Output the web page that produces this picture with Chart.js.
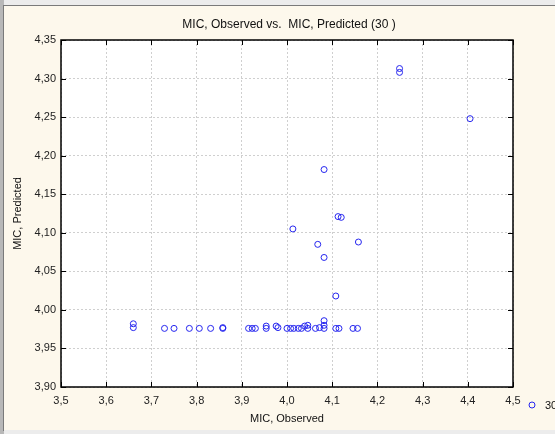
<!DOCTYPE html>
<html>
<head>
<meta charset="utf-8">
<script src="https://cdn.jsdelivr.net/npm/chart.js@4/dist/chart.umd.min.js"></script>
<style>
  html, body { margin: 0; padding: 0; background: #fdf8ec; overflow: hidden; }
  #wrap { width: 555px; height: 434px; position: relative; }
</style>
</head>
<body>
<div id="wrap"><canvas id="c" width="555" height="434"></canvas></div>
<script>
// Observed vs. predicted MIC values (log scale units)
const observed = [
  4.249, 4.249, 4.405, 4.082, 4.113, 4.120, 4.013, 4.158, 4.068, 4.082, 4.108,
  3.660, 3.660, 3.729, 3.750, 3.784, 3.806, 3.831, 3.858, 3.858,
  3.915, 3.923, 3.930, 3.954, 3.954, 3.976, 3.980,
  4.000, 4.008, 4.015, 4.025, 4.032, 4.039, 4.046, 4.046,
  4.063, 4.072, 4.082, 4.082, 4.082, 4.108, 4.115, 4.146, 4.156
];
const predicted = [
  4.313, 4.308, 4.248, 4.182, 4.121, 4.120, 4.105, 4.088, 4.085, 4.068, 4.018,
  3.982, 3.977, 3.976, 3.976, 3.976, 3.976, 3.976, 3.976, 3.977,
  3.976, 3.976, 3.976, 3.979, 3.976, 3.979, 3.977,
  3.976, 3.976, 3.976, 3.976, 3.976, 3.979, 3.980, 3.976,
  3.976, 3.977, 3.986, 3.980, 3.976, 3.976, 3.976, 3.976, 3.976
];

const seriesLabel = '30';
const chartTitle = 'MIC, Observed vs.  MIC, Predicted (30 )';
const xTitle = 'MIC, Observed';
const yTitle = 'MIC, Predicted';

const xMin = 3.5, xMax = 4.5, xStep = 0.1;
const yMin = 3.9, yMax = 4.35, yStep = 0.05;

const FONT = '"Liberation Sans", Arial, sans-serif';
const BLUE = '#2626f0';

const points = observed.map((x, i) => ({ x: x, y: predicted[i] }));

// Panel background, plot frame, inner tick marks, title and legend
const panel = {
  id: 'panel',
  beforeDraw(chart) {
    const { ctx, chartArea: a } = chart;
    ctx.save();
    ctx.fillStyle = '#fdf8ec';
    ctx.fillRect(0, 0, chart.width, chart.height);
    // window edges
    ctx.fillStyle = '#ececec';
    ctx.fillRect(0, 0, chart.width, 6);
    ctx.fillRect(0, chart.height - 4, chart.width, 4);
    ctx.fillStyle = '#b8b8b8';
    ctx.fillRect(0, 0, 4, chart.height);
    ctx.fillStyle = '#7a7a7a';
    ctx.fillRect(3, 5, 1, chart.height - 8);
    ctx.fillRect(3, 5, chart.width, 1);
    // plot area
    ctx.fillStyle = '#ffffff';
    ctx.fillRect(a.left, a.top, a.right - a.left, a.bottom - a.top);
    ctx.restore();
  },
  afterDraw(chart) {
    const { ctx, chartArea: a, scales } = chart;
    ctx.save();
    ctx.strokeStyle = '#000';
    ctx.lineWidth = 1;
    ctx.beginPath();
    // inner tick marks on all four sides
    scales.x.ticks.forEach(t => {
      const px = Math.round(scales.x.getPixelForValue(t.value)) + 0.5;
      ctx.moveTo(px, a.bottom); ctx.lineTo(px, a.bottom - 5);
      ctx.moveTo(px, a.top); ctx.lineTo(px, a.top + 5);
    });
    scales.y.ticks.forEach(t => {
      const py = Math.round(scales.y.getPixelForValue(t.value)) + 0.5;
      ctx.moveTo(a.left, py); ctx.lineTo(a.left + 5, py);
      ctx.moveTo(a.right, py); ctx.lineTo(a.right - 5, py);
    });
    ctx.stroke();
    ctx.lineWidth = 1.5;
    ctx.strokeRect(a.left, a.top, a.right - a.left, a.bottom - a.top);

    // title
    ctx.fillStyle = '#111';
    ctx.font = '12px ' + FONT;
    ctx.textAlign = 'center';
    ctx.textBaseline = 'middle';
    ctx.fillText(chartTitle, (a.left + a.right) / 2 + 2, 25);

    // legend
    ctx.strokeStyle = BLUE;
    ctx.lineWidth = 1;
    ctx.beginPath();
    ctx.arc(532, 405, 3, 0, Math.PI * 2);
    ctx.stroke();
    ctx.fillStyle = '#111';
    ctx.font = '11px ' + FONT;
    ctx.textAlign = 'left';
    ctx.fillText(seriesLabel, 545, 406);
    ctx.restore();
  }
};

const fmt = (d) => (v) => v.toFixed(d).replace('.', ',');

new Chart(document.getElementById('c'), {
  type: 'scatter',
  data: {
    datasets: [{
      label: seriesLabel,
      data: points,
      pointStyle: 'circle',
      pointRadius: 3,
      pointHoverRadius: 3,
      borderColor: BLUE,
      backgroundColor: 'rgba(0,0,0,0)',
      borderWidth: 1
    }]
  },
  options: {
    responsive: false,
    animation: false,
    devicePixelRatio: 1,
    layout: { padding: { top: 40, right: 42, left: 0, bottom: 0 } },
    plugins: {
      legend: { display: false },
      title: { display: false },
      tooltip: { enabled: false }
    },
    scales: {
      x: {
        type: 'linear',
        min: xMin, max: xMax,
        afterBuildTicks(s) {
          const t = [];
          for (let v = xMin; v <= xMax + 1e-9; v += xStep) t.push({ value: +v.toFixed(2) });
          s.ticks = t;
        },
        afterFit(s) { s.height = 47; },
        ticks: { callback: fmt(1), color: '#222', font: { family: FONT, size: 11 }, padding: 7, maxRotation: 0, autoSkip: false },
        grid: { color: '#cfcfcf', lineWidth: 1, drawTicks: false },
        border: { display: false, dash: [2, 2] },
        title: { display: true, text: xTitle, color: '#111', font: { family: FONT, size: 11 }, padding: { top: 0, bottom: 8 } }
      },
      y: {
        type: 'linear',
        min: yMin, max: yMax,
        afterBuildTicks(s) {
          const t = [];
          for (let v = yMin; v <= yMax + 1e-9; v += yStep) t.push({ value: +v.toFixed(2) });
          s.ticks = t;
        },
        afterFit(s) { s.width = 61; },
        ticks: { callback: fmt(2), color: '#222', font: { family: FONT, size: 11 }, padding: 5, autoSkip: false },
        grid: { color: '#cfcfcf', lineWidth: 1, drawTicks: false },
        border: { display: false, dash: [2, 2] },
        title: { display: true, text: yTitle, color: '#111', font: { family: FONT, size: 11 }, padding: { top: 11, bottom: 0 } }
      }
    }
  },
  plugins: [panel]
});
</script>
</body>
</html>
